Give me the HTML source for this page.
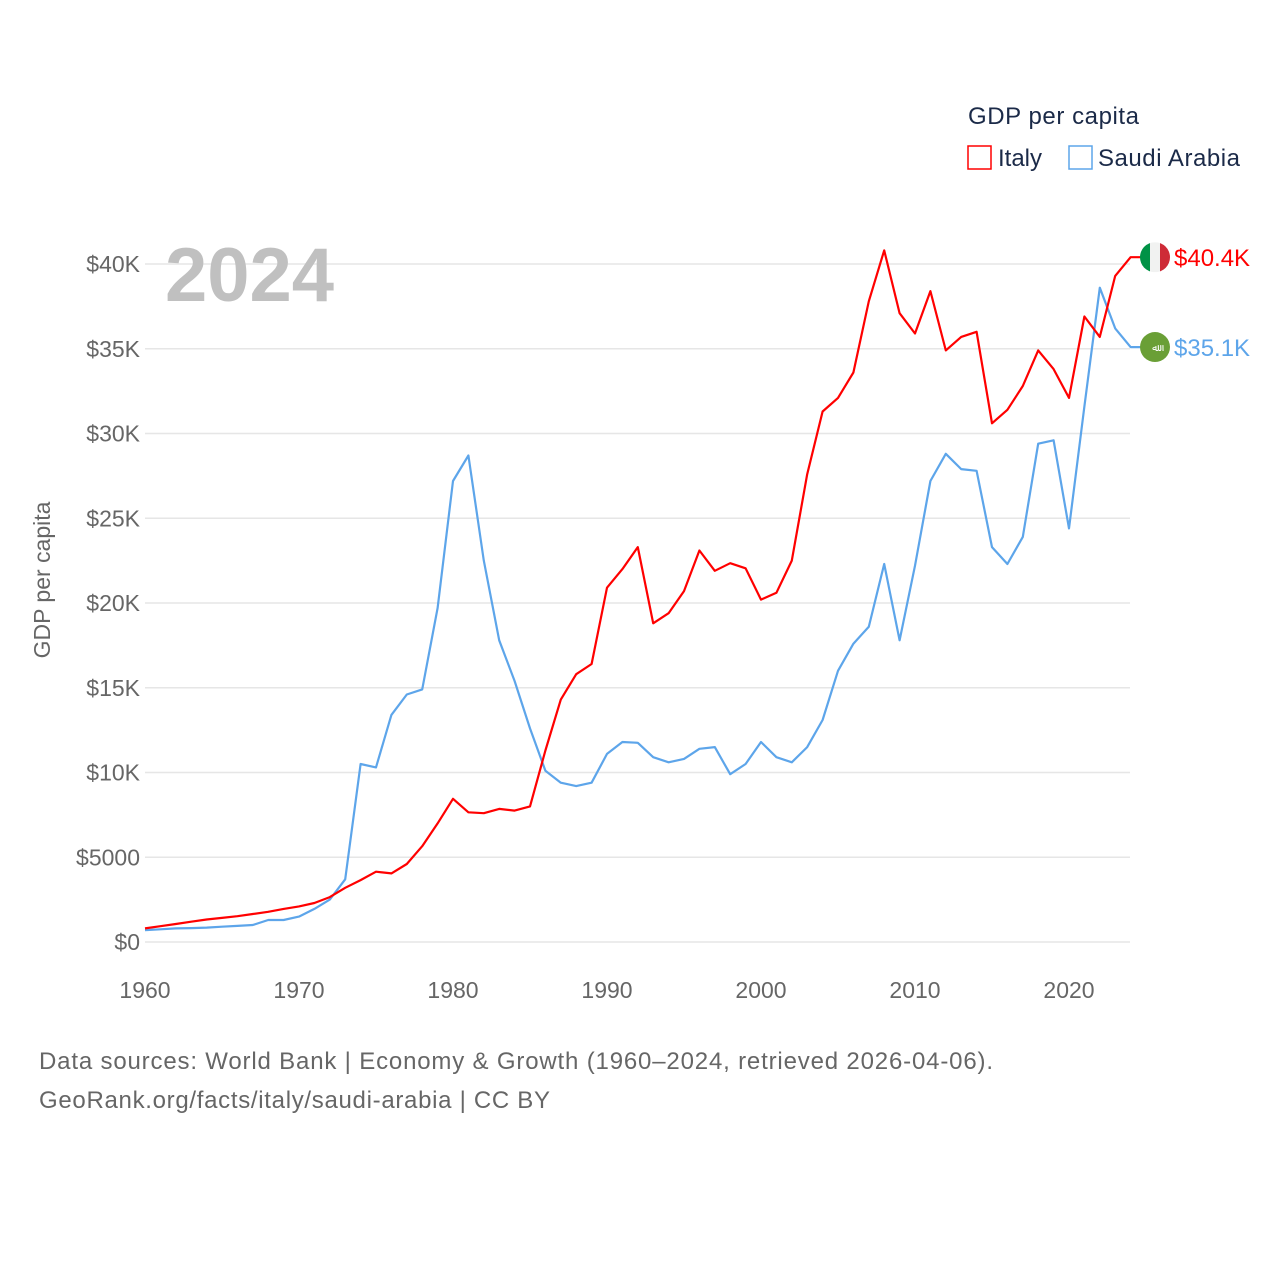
<!DOCTYPE html>
<html><head><meta charset="utf-8"><style>
body{margin:0;background:#fff;width:1280px;height:1280px;overflow:hidden;font-family:"Liberation Sans",sans-serif}
svg{position:absolute;left:0;top:0}
</style></head><body>
<svg id="chart" width="1280" height="1280" xmlns="http://www.w3.org/2000/svg" font-family="Liberation Sans, sans-serif">
<g id="grid"></g>
<g id="yticks"></g>
<g id="xticks"></g>
<text x="165" y="301" font-size="76" font-weight="bold" fill="#c0c0c0">2024</text>
<text transform="translate(50,580) rotate(-90)" text-anchor="middle" font-size="23" fill="#666">GDP per capita</text>
<g id="series"></g>
<g>
<text x="968" y="124" font-size="24" fill="#1b2a48" textLength="171">GDP per capita</text>
<rect x="968" y="146" width="23" height="23" fill="none" stroke="#ff0000" stroke-width="1.5"/>
<text x="998" y="166" font-size="24" fill="#1b2a48">Italy</text>
<rect x="1069" y="146" width="23" height="23" fill="none" stroke="#5da5ea" stroke-width="1.5"/>
<text x="1098" y="166" font-size="24" fill="#1b2a48" textLength="142">Saudi Arabia</text>
</g>
<text x="39" y="1069" font-size="24" fill="#666" textLength="954">Data sources: World Bank | Economy &amp; Growth (1960–2024, retrieved 2026-04-06).</text>
<text x="39" y="1108" font-size="24" fill="#666" textLength="511">GeoRank.org/facts/italy/saudi-arabia | CC BY</text>
</svg>
<script>
const years=[];for(let y=1960;y<=2024;y++)years.push(y);
const italy=[0.8,0.93,1.06,1.2,1.33,1.42,1.52,1.65,1.78,1.95,2.1,2.3,2.65,3.2,3.65,4.15,4.05,4.6,5.65,7.0,8.45,7.65,7.6,7.85,7.75,8.0,11.3,14.3,15.8,16.4,20.9,22.0,23.3,18.8,19.4,20.7,23.1,21.9,22.35,22.05,20.2,20.6,22.5,27.6,31.3,32.1,33.6,37.8,40.8,37.1,35.9,38.4,34.9,35.7,36.0,30.6,31.4,32.8,34.9,33.8,32.1,36.9,35.7,39.3,40.4];
const saudi=[0.7,0.75,0.8,0.82,0.85,0.9,0.95,1.0,1.3,1.3,1.5,1.95,2.5,3.7,10.5,10.3,13.4,14.6,14.9,19.7,27.2,28.7,22.5,17.8,15.4,12.6,10.1,9.4,9.2,9.4,11.1,11.8,11.75,10.9,10.6,10.8,11.4,11.5,9.9,10.5,11.8,10.9,10.6,11.5,13.1,16.0,17.6,18.6,22.3,17.8,22.2,27.2,28.8,27.9,27.8,23.3,22.3,23.9,29.4,29.6,24.4,31.6,38.6,36.2,35.1];
const yTicks=[0,5,10,15,20,25,30,35,40];
const yTickLabels=["$0","$5000","$10K","$15K","$20K","$25K","$30K","$35K","$40K"];
const xTicks=[1960,1970,1980,1990,2000,2010,2020];
const endLabels=["$40.4K","$35.1K"];
const NS="http://www.w3.org/2000/svg";
const X=y=>145+(y-1960)*15.4;
const Y=v=>942-v*16.95;
function mk(t,a,p){const e=document.createElementNS(NS,t);for(const k in a)e.setAttribute(k,a[k]);p.appendChild(e);return e;}
const grid=document.getElementById('grid'),yt=document.getElementById('yticks'),xt=document.getElementById('xticks'),ser=document.getElementById('series');
yTicks.forEach((v,i)=>{
 const l=mk('line',{x1:145,x2:1130,y1:Y(v),y2:Y(v),stroke:'#e6e6e6','stroke-width':1.5},grid);
 
 
 const t=mk('text',{x:140,y:Y(v)+8,'text-anchor':'end','font-size':23,fill:'#666'},yt);
 t.textContent=yTickLabels[i];
 
 
});
xTicks.forEach(y=>{
 const t=mk('text',{x:X(y),y:998,'text-anchor':'middle','font-size':23,fill:'#666'},xt);
 t.textContent=y;
 
 
});
function line(data,color,name){
 let d=data.map((v,i)=>(i?'L':'M')+X(years[i]).toFixed(1)+','+Y(v).toFixed(1)).join('');
 d+='L'+(X(2024)+10)+','+Y(data[data.length-1]).toFixed(1);
 const p=mk('path',{d:d,fill:'none',stroke:color,'stroke-width':2.2,'stroke-linejoin':'round'},ser);
 
 
}
line(saudi,'#5da5ea','line-saudi-arabia');
line(italy,'#ff0000','line-italy');
const iy=Y(italy[italy.length-1]),sy=Y(saudi[saudi.length-1]);
const fi=mk('g',{},ser);


mk('clipPath',{id:'c1'},fi).appendChild(document.createElementNS(NS,'circle')).setAttribute('cx',1155);
const cc=fi.querySelector('circle');cc.setAttribute('cy',iy);cc.setAttribute('r',15);
const gf=mk('g',{'clip-path':'url(#c1)'},fi);
mk('rect',{x:1140,y:iy-15,width:10,height:30,fill:'#009246'},gf);
mk('rect',{x:1150,y:iy-15,width:10,height:30,fill:'#f1f2f1'},gf);
mk('rect',{x:1160,y:iy-15,width:10,height:30,fill:'#ce2b37'},gf);
const fs=mk('circle',{cx:1155,cy:sy,r:15,fill:'#6a9f36'},ser);


const st=mk('text',{x:1155,y:sy+4,'text-anchor':'middle','font-size':10,fill:'#fff'},ser);st.textContent='ﷲ';


const t1=mk('text',{x:1174,y:iy+9,'font-size':24,fill:'#ff0000'},ser);t1.textContent=endLabels[0];


const t2=mk('text',{x:1174,y:sy+9,'font-size':24,fill:'#5da5ea'},ser);t2.textContent=endLabels[1];


</script>
</body></html>
